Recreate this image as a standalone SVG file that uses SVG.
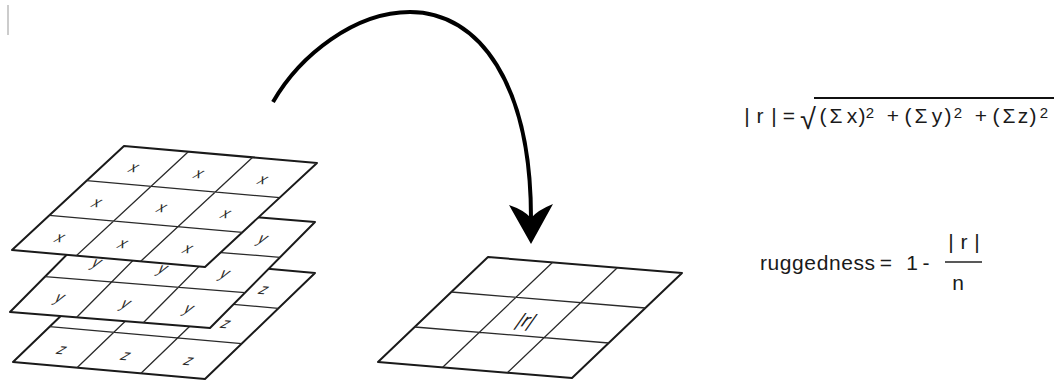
<svg xmlns="http://www.w3.org/2000/svg" width="1054" height="384" viewBox="0 0 1054 384">
<style>
.outer{fill:#fff;stroke:#1a1a1a;stroke-width:2;stroke-linejoin:round}
.inner{fill:none;stroke:#2a2a2a;stroke-width:1.3}
.lbl{font-family:"Liberation Sans",Arial,sans-serif;font-style:italic;font-size:15px;fill:#2a2a2a;text-anchor:middle;dominant-baseline:central}
.eq{font-family:"Liberation Sans",Arial,sans-serif;font-size:21px;fill:#1a1a1a;text-anchor:middle}
.sup{font-size:15px}
.arrow{fill:none;stroke:#000;stroke-width:4}
</style>
<defs>
<marker id="head" markerUnits="userSpaceOnUse" markerWidth="60" markerHeight="60" refX="0" refY="0" orient="auto" overflow="visible">
<path d="M26,0 L-13,22 Q-8,7 0,0 Q-8,-7 -14,-22 Z" fill="#000"/>
</marker>
</defs>
<line x1="8" y1="5" x2="8" y2="35" stroke="#aaa" stroke-width="1.2"/>

<g id="layer-z">
<polygon class="outer" points="123,256 315,273 205,379 13,362"/>
<path class="inner" d="M187,261.7 L77,367.7 M251,267.3 L141,373.3 M86.3,291.3 L278.3,308.3 M49.7,326.7 L241.7,343.7"/>
<g transform="translate(264,289) rotate(5) skewX(-25)"><text class="lbl">z</text></g>
<g transform="translate(226,323) rotate(5) skewX(-25)"><text class="lbl">z</text></g>
<g transform="translate(62,349) rotate(5) skewX(-25)"><text class="lbl">z</text></g>
<g transform="translate(126,355) rotate(5) skewX(-25)"><text class="lbl">z</text></g>
<g transform="translate(189,360) rotate(5) skewX(-25)"><text class="lbl">z</text></g>
</g>

<g id="layer-y">
<polygon class="outer" points="115,206 315,222 210,328 10,312"/>
<path class="inner" d="M181.7,211.3 L76.7,317.3 M248.3,216.7 L143.3,322.7 M80,241.3 L280,257.3 M45,276.7 L245,292.7"/>
<g transform="translate(263,238) rotate(5) skewX(-25)"><text class="lbl">y</text></g>
<g transform="translate(97,262) rotate(5) skewX(-25)"><text class="lbl">y</text></g>
<g transform="translate(163,268) rotate(5) skewX(-25)"><text class="lbl">y</text></g>
<g transform="translate(225,273) rotate(5) skewX(-25)"><text class="lbl">y</text></g>
<g transform="translate(60,297) rotate(5) skewX(-25)"><text class="lbl">y</text></g>
<g transform="translate(126,303) rotate(5) skewX(-25)"><text class="lbl">y</text></g>
<g transform="translate(189,308) rotate(5) skewX(-25)"><text class="lbl">y</text></g>
</g>

<g id="layer-x">
<polygon class="outer" points="124,146 317,163 205,267 12,250"/>
<path class="inner" d="M188.3,151.7 L76.3,255.7 M252.7,157.3 L140.7,261.3 M86.7,180.7 L279.7,197.7 M49.3,215.3 L242.3,232.3"/>
<g transform="translate(134,167) rotate(5) skewX(-25)"><text class="lbl">x</text></g>
<g transform="translate(199,173) rotate(5) skewX(-25)"><text class="lbl">x</text></g>
<g transform="translate(263,179) rotate(5) skewX(-25)"><text class="lbl">x</text></g>
<g transform="translate(97,202) rotate(5) skewX(-25)"><text class="lbl">x</text></g>
<g transform="translate(162,207) rotate(5) skewX(-25)"><text class="lbl">x</text></g>
<g transform="translate(226,213) rotate(5) skewX(-25)"><text class="lbl">x</text></g>
<g transform="translate(60,237) rotate(5) skewX(-25)"><text class="lbl">x</text></g>
<g transform="translate(123,243) rotate(5) skewX(-25)"><text class="lbl">x</text></g>
<g transform="translate(188,248) rotate(5) skewX(-25)"><text class="lbl">x</text></g>
</g>

<g id="result-grid">
<polygon class="outer" points="488,257 682,273 572,378 378,362"/>
<path class="inner" d="M552.7,262.3 L442.7,367.3 M617.3,267.7 L507.3,372.7 M451.3,292 L645.3,308 M414.7,327 L608.7,343"/>
<g transform="translate(527,320) rotate(5) skewX(-30)"><text class="lbl" style="font-size:19px;font-style:normal;fill:#1a1a1a">|r|</text></g>
</g>

<g id="connectors">
<path class="arrow" d="M273,102 C300,55 355,12 410,12 C480,12 531,85 531,218" marker-end="url(#head)"/>
</g>

<g id="formula-magnitude">
<text class="eq" y="123"><tspan x="747">|</tspan><tspan x="760">r</tspan><tspan x="774">|</tspan><tspan x="789">=</tspan></text>
<text class="eq" y="129" x="808" style="font-size:29px">√</text>
<line x1="814" y1="98" x2="1054" y2="98" stroke="#111" stroke-width="2"/>
<text class="eq" y="123"><tspan x="823">(</tspan><tspan x="836">Σ</tspan><tspan x="852">x</tspan><tspan x="862">)</tspan><tspan x="893">+</tspan><tspan x="908">(</tspan><tspan x="921">Σ</tspan><tspan x="937">y</tspan><tspan x="948">)</tspan><tspan x="981">+</tspan><tspan x="996">(</tspan><tspan x="1009">Σ</tspan><tspan x="1023">z</tspan><tspan x="1033">)</tspan></text>
<text class="eq sup" y="118"><tspan x="870">2</tspan><tspan x="958">2</tspan><tspan x="1044">2</tspan></text>
</g>

<g id="formula-ruggedness">
<text class="eq" y="270" x="760" style="text-anchor:start" textLength="115" lengthAdjust="spacing">ruggedness</text>
<text class="eq" y="270"><tspan x="886">=</tspan><tspan x="912">1</tspan><tspan x="926">-</tspan></text>
<line x1="945" y1="262" x2="982" y2="262" stroke="#222" stroke-width="1.5"/>
<text class="eq" y="249"><tspan x="951">|</tspan><tspan x="964">r</tspan><tspan x="977">|</tspan></text>
<text class="eq" y="290" x="958">n</text>
</g>
</svg>
